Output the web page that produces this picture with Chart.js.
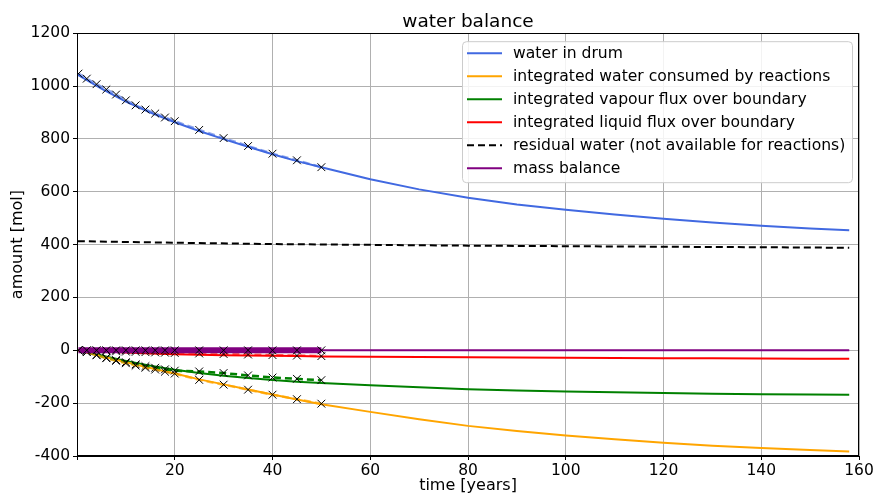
<!DOCTYPE html>
<html>
<head>
<meta charset="utf-8">
<script src="https://cdn.jsdelivr.net/npm/chart.js@4.4.1/dist/chart.umd.min.js"></script>
<style>
  html, body { margin: 0; padding: 0; background: #fff; }
  #wrap { width: 877px; height: 495px; }
</style>
</head>
<body>
<div id="wrap"><canvas id="canvas" width="877" height="495"></canvas></div>
<script>
// simulation output (solid lines)
const simTime = [0, 5, 10, 15, 20, 25, 30, 35, 40, 45, 50, 60, 70, 80, 90, 100, 110, 120, 130, 140, 150, 158];
const drumSim = [1044, 990, 941, 900, 863, 830, 799, 770, 742, 716, 693, 647, 609, 577, 552, 532, 514, 498, 484, 471, 461, 454];
const consumedSim = [0, -22, -45, -67, -88, -110, -129, -148, -167, -186, -204, -233, -261, -286, -305, -322, -337, -350, -361, -370, -377, -383];
const vapourSim = [0, -20, -40, -58, -74, -86, -96, -105, -112, -119, -124, -132, -140, -147, -152, -156, -159, -162, -164, -166, -167, -168];
const liquidSim = [0, -4, -8, -12, -15, -17, -19, -20, -21, -22, -23, -24, -25, -26, -27, -28, -29, -30, -30, -31, -32, -32];
const massSim = [0, 0, 0, 0, 0, 0, 0, 0, 0, 0, 0, 0, 0, 0, 0, 0, 0, 0, 0, 0, 0, 0];

const residualTime = [0, 0, 20, 40, 60, 80, 100, 120, 140, 158];
const residualSim = [0, 413, 407, 402, 399, 396, 394, 392, 390, 388];

// reference values (dashed lines with x markers)
const refTime = [0.3, 2, 4, 6, 8, 10, 12, 14, 16, 18, 20, 25, 30, 35, 40, 45, 50];
const drumRef = [1047, 1028, 1007, 987, 968, 946, 927, 911, 896, 881, 867, 834, 803, 773, 744, 719, 693];
const consumedRef = [0, -7, -19, -30, -40, -49, -58, -66, -73, -81, -88, -112, -130, -149, -168, -185, -202];
const vapourRef = [0, -6, -17, -28, -37, -45, -53, -60, -66, -72, -77, -80, -86, -95, -103, -108, -113];
const liquidRef = [0, -1, -2, -3, -4, -5, -6, -7, -8, -9, -10, -12, -14, -16, -18, -20, -22];
const massRef = [0, 0, 0, 0, 0, 0, 0, 0, 0, 0, 0, 0, 0, 0, 0, 0, 0];

const legendLabels = ["water in drum", "integrated water consumed by reactions",
  "integrated vapour flux over boundary", "integrated liquid flux over boundary",
  "residual water (not available for reactions)", "mass balance"];
const legendColors = ["#4169e1", "#ffa500", "#008000", "#ff0000", "#000000", "#800080"];

function pts(xs, ys) {
  return xs.map((x, i) => ({ x: x, y: ys[i] }));
}

function simSet(label, ys, color, order) {
  return {
    label: label, data: pts(simTime, ys), borderColor: color, borderWidth: 2,
    pointRadius: 0, tension: 0, order: order
  };
}

function refSet(ys, color, width, dash, order) {
  return {
    label: "", data: pts(refTime, ys), borderColor: color, borderWidth: width,
    borderDash: dash, pointStyle: "crossRot", pointRadius: 5.5,
    pointBorderColor: "#000", pointBorderWidth: 1, pointBackgroundColor: "#000",
    tension: 0, order: order
  };
}

const datasets = [
  simSet(legendLabels[0], drumSim, legendColors[0], 10),
  simSet(legendLabels[1], consumedSim, legendColors[1], 10),
  simSet(legendLabels[2], vapourSim, legendColors[2], 10),
  simSet(legendLabels[3], liquidSim, legendColors[3], 10),
  {
    label: legendLabels[4], data: pts(residualTime, residualSim), borderColor: "#000",
    borderWidth: 2, borderDash: [7, 4], pointRadius: 0, tension: 0, order: 9
  },
  simSet(legendLabels[5], massSim, legendColors[5], 10),
  refSet(drumRef, "rgba(65,105,225,0.6)", 2.5, [7, 4], 5),
  refSet(consumedRef, "rgba(255,165,0,0.7)", 2.5, [7, 4], 5),
  refSet(vapourRef, "#008000", 2.5, [7, 4], 5),
  refSet(liquidRef, "rgba(255,0,0,0.6)", 2.5, [7, 4], 5),
  refSet(massRef, "#800080", 6, [], 4)
];

const frame = {
  id: "frame",
  afterDraw(chart) {
    const a = chart.chartArea;
    const ctx = chart.ctx;
    ctx.save();
    ctx.strokeStyle = "#000";
    ctx.lineWidth = 1;
    ctx.strokeRect(Math.round(a.left) + 0.5, Math.round(a.top) + 0.5,
      Math.round(a.right - a.left) - 1, Math.round(a.bottom - a.top) - 1);

    // legend box, upper right
    const bx = a.right - 397, by = a.top + 8, bw = 390, bh = 141;
    ctx.fillStyle = "rgba(255,255,255,0.85)";
    ctx.strokeStyle = "#cccccc";
    ctx.beginPath();
    ctx.roundRect(bx + 0.5, by + 0.5, bw, bh, 4);
    ctx.fill();
    ctx.stroke();
    ctx.font = "15.6px 'DejaVu Sans'";
    ctx.textBaseline = "middle";
    ctx.fillStyle = "#000";
    legendLabels.forEach((lab, i) => {
      const y = by + 12 + i * 23;
      ctx.strokeStyle = legendColors[i];
      ctx.lineWidth = 2;
      ctx.setLineDash(i === 4 ? [7, 4] : []);
      ctx.beginPath();
      ctx.moveTo(bx + 5, y);
      ctx.lineTo(bx + 40, y);
      ctx.stroke();
      ctx.fillText(lab, bx + 51, y + 1);
    });
    ctx.restore();
  }
};

Chart.defaults.font.family = "'DejaVu Sans'";
Chart.defaults.color = "#000";

const ctx = document.getElementById("canvas").getContext("2d");
const myChart = new Chart(ctx, {
  type: "line",
  data: { datasets: datasets },
  plugins: [frame],
  options: {
    responsive: false,
    animation: false,
    layout: { padding: { left: 0, right: 18, top: 0, bottom: 0 } },
    plugins: {
      legend: { display: false },
      tooltip: { enabled: false },
      title: {
        display: true, text: "water balance", color: "#000", fullSize: false,
        font: { size: 18.5, weight: "normal" }, padding: { top: 11, bottom: 0 }
      }
    },
    scales: {
      x: {
        type: "linear", min: 0, max: 160,
        ticks: {
          stepSize: 20, font: { size: 15.5 }, padding: 2,
          callback: (v) => (v === 0 ? "" : String(v))
        },
        grid: { color: "#b0b0b0", lineWidth: 1, tickLength: 4, tickColor: "#000" },
        border: { color: "#000" },
        title: { display: true, text: "time [years]", font: { size: 16 }, padding: { top: 0, bottom: 0 } },
        afterFit: (s) => { s.height = 39; }
      },
      y: {
        min: -400, max: 1200,
        ticks: { stepSize: 200, font: { size: 15.5 }, padding: 3, callback: (v) => String(v) },
        grid: { color: "#b0b0b0", lineWidth: 1, tickLength: 4, tickColor: "#000" },
        border: { color: "#000" },
        title: { display: true, text: "amount [mol]", font: { size: 16 }, padding: { top: 8, bottom: 0 } },
        afterFit: (s) => { s.width = 77; }
      }
    }
  }
});
</script>
</body>
</html>
